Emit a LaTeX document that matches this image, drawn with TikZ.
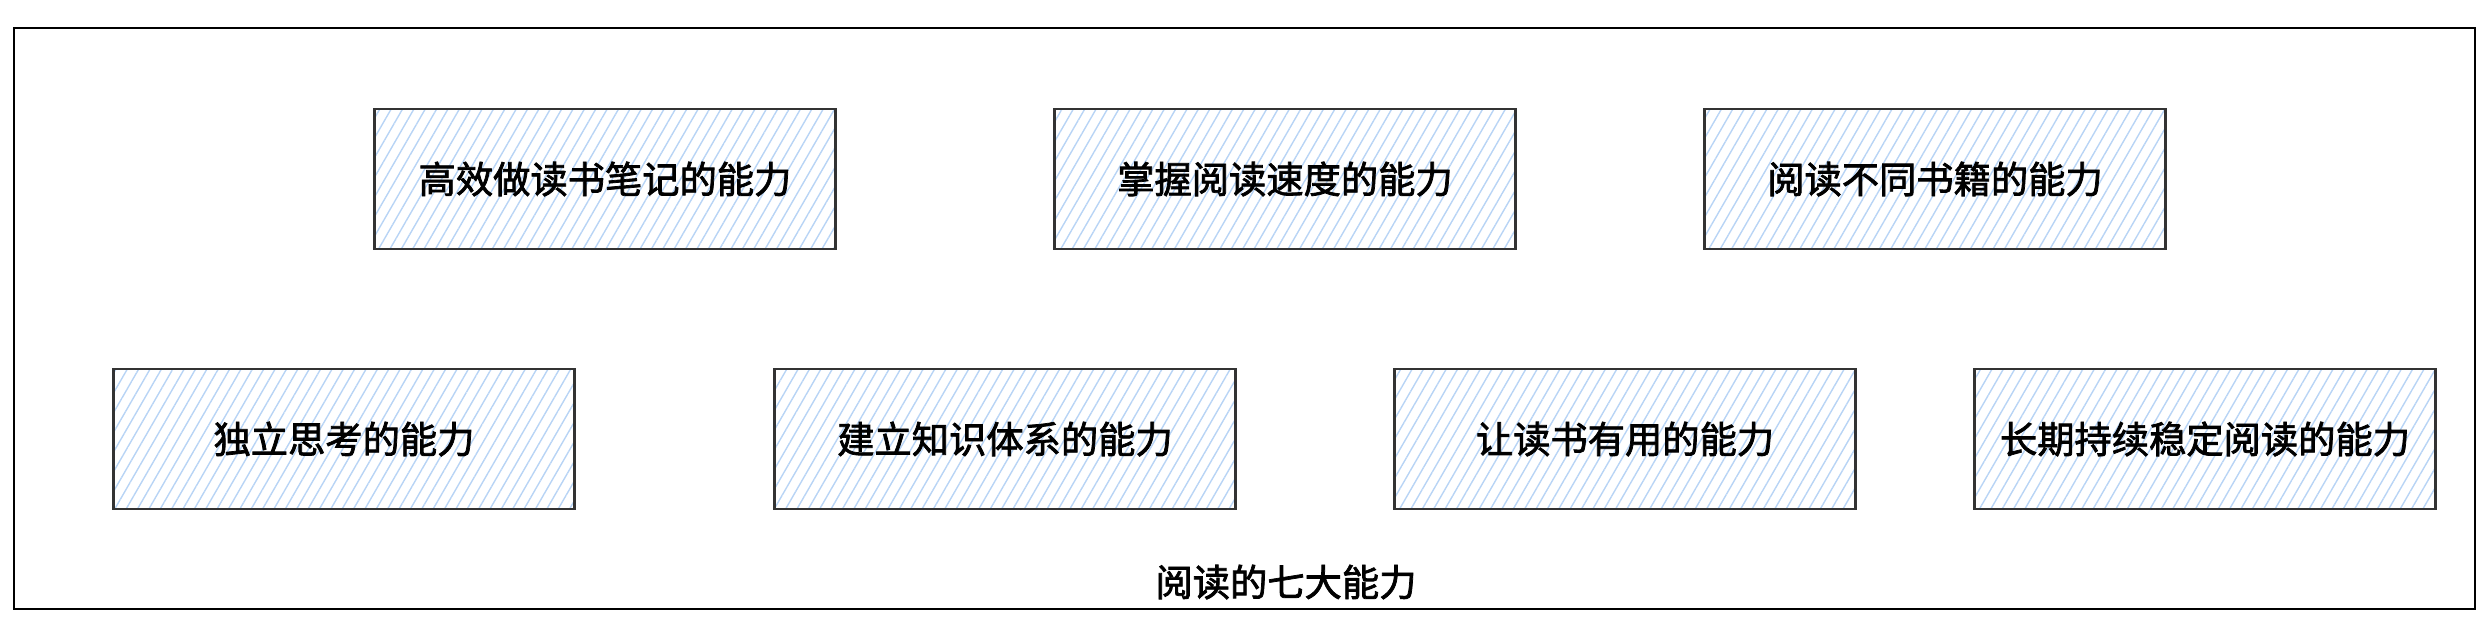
\documentclass[tikz,border=0pt]{standalone}
\usepackage{fontspec}
\usepackage{xcolor}
\usepackage{tikz}
\usetikzlibrary{patterns.meta}
\newfontfamily\cjk{Noto Sans CJK SC}[FakeBold=2]
\definecolor{hatchblue}{HTML}{b8d4f5}
\definecolor{boxline}{HTML}{333333}

\begin{document}
\begin{tikzpicture}[x=0.01cm, y=-0.01cm,
  ability/.style={draw=boxline, line width=0.8pt, minimum width=4.6cm, minimum height=1.4cm,
    pattern={Lines[angle=60, distance=2.8pt, line width=0.4pt]}, pattern color=hatchblue,
    font=\cjk\fontsize{10.6}{12}\selectfont, inner sep=0pt}]
  \useasboundingbox (0,0) rectangle (2491,629);

  % outer frame
  \draw[line width=0.6pt] (14,28) rectangle (2475,609);

  % top row
  \node[ability] (noteTaking) at (605,179) {高效做读书笔记的能力};
  \node[ability] (readSpeed) at (1285,179) {掌握阅读速度的能力};
  \node[ability] (diffBooks) at (1935,179) {阅读不同书籍的能力};

  % bottom row
  \node[ability] (indepThink) at (344,439) {独立思考的能力};
  \node[ability] (knowSys) at (1005,439) {建立知识体系的能力};
  \node[ability] (useBooks) at (1625,439) {让读书有用的能力};
  \node[ability] (longRead) at (2205,439) {长期持续稳定阅读的能力};

  % caption
  \node[font=\cjk\fontsize{10.6}{12}\selectfont] (caption) at (1286,582) {阅读的七大能力};
\end{tikzpicture}
\end{document}
